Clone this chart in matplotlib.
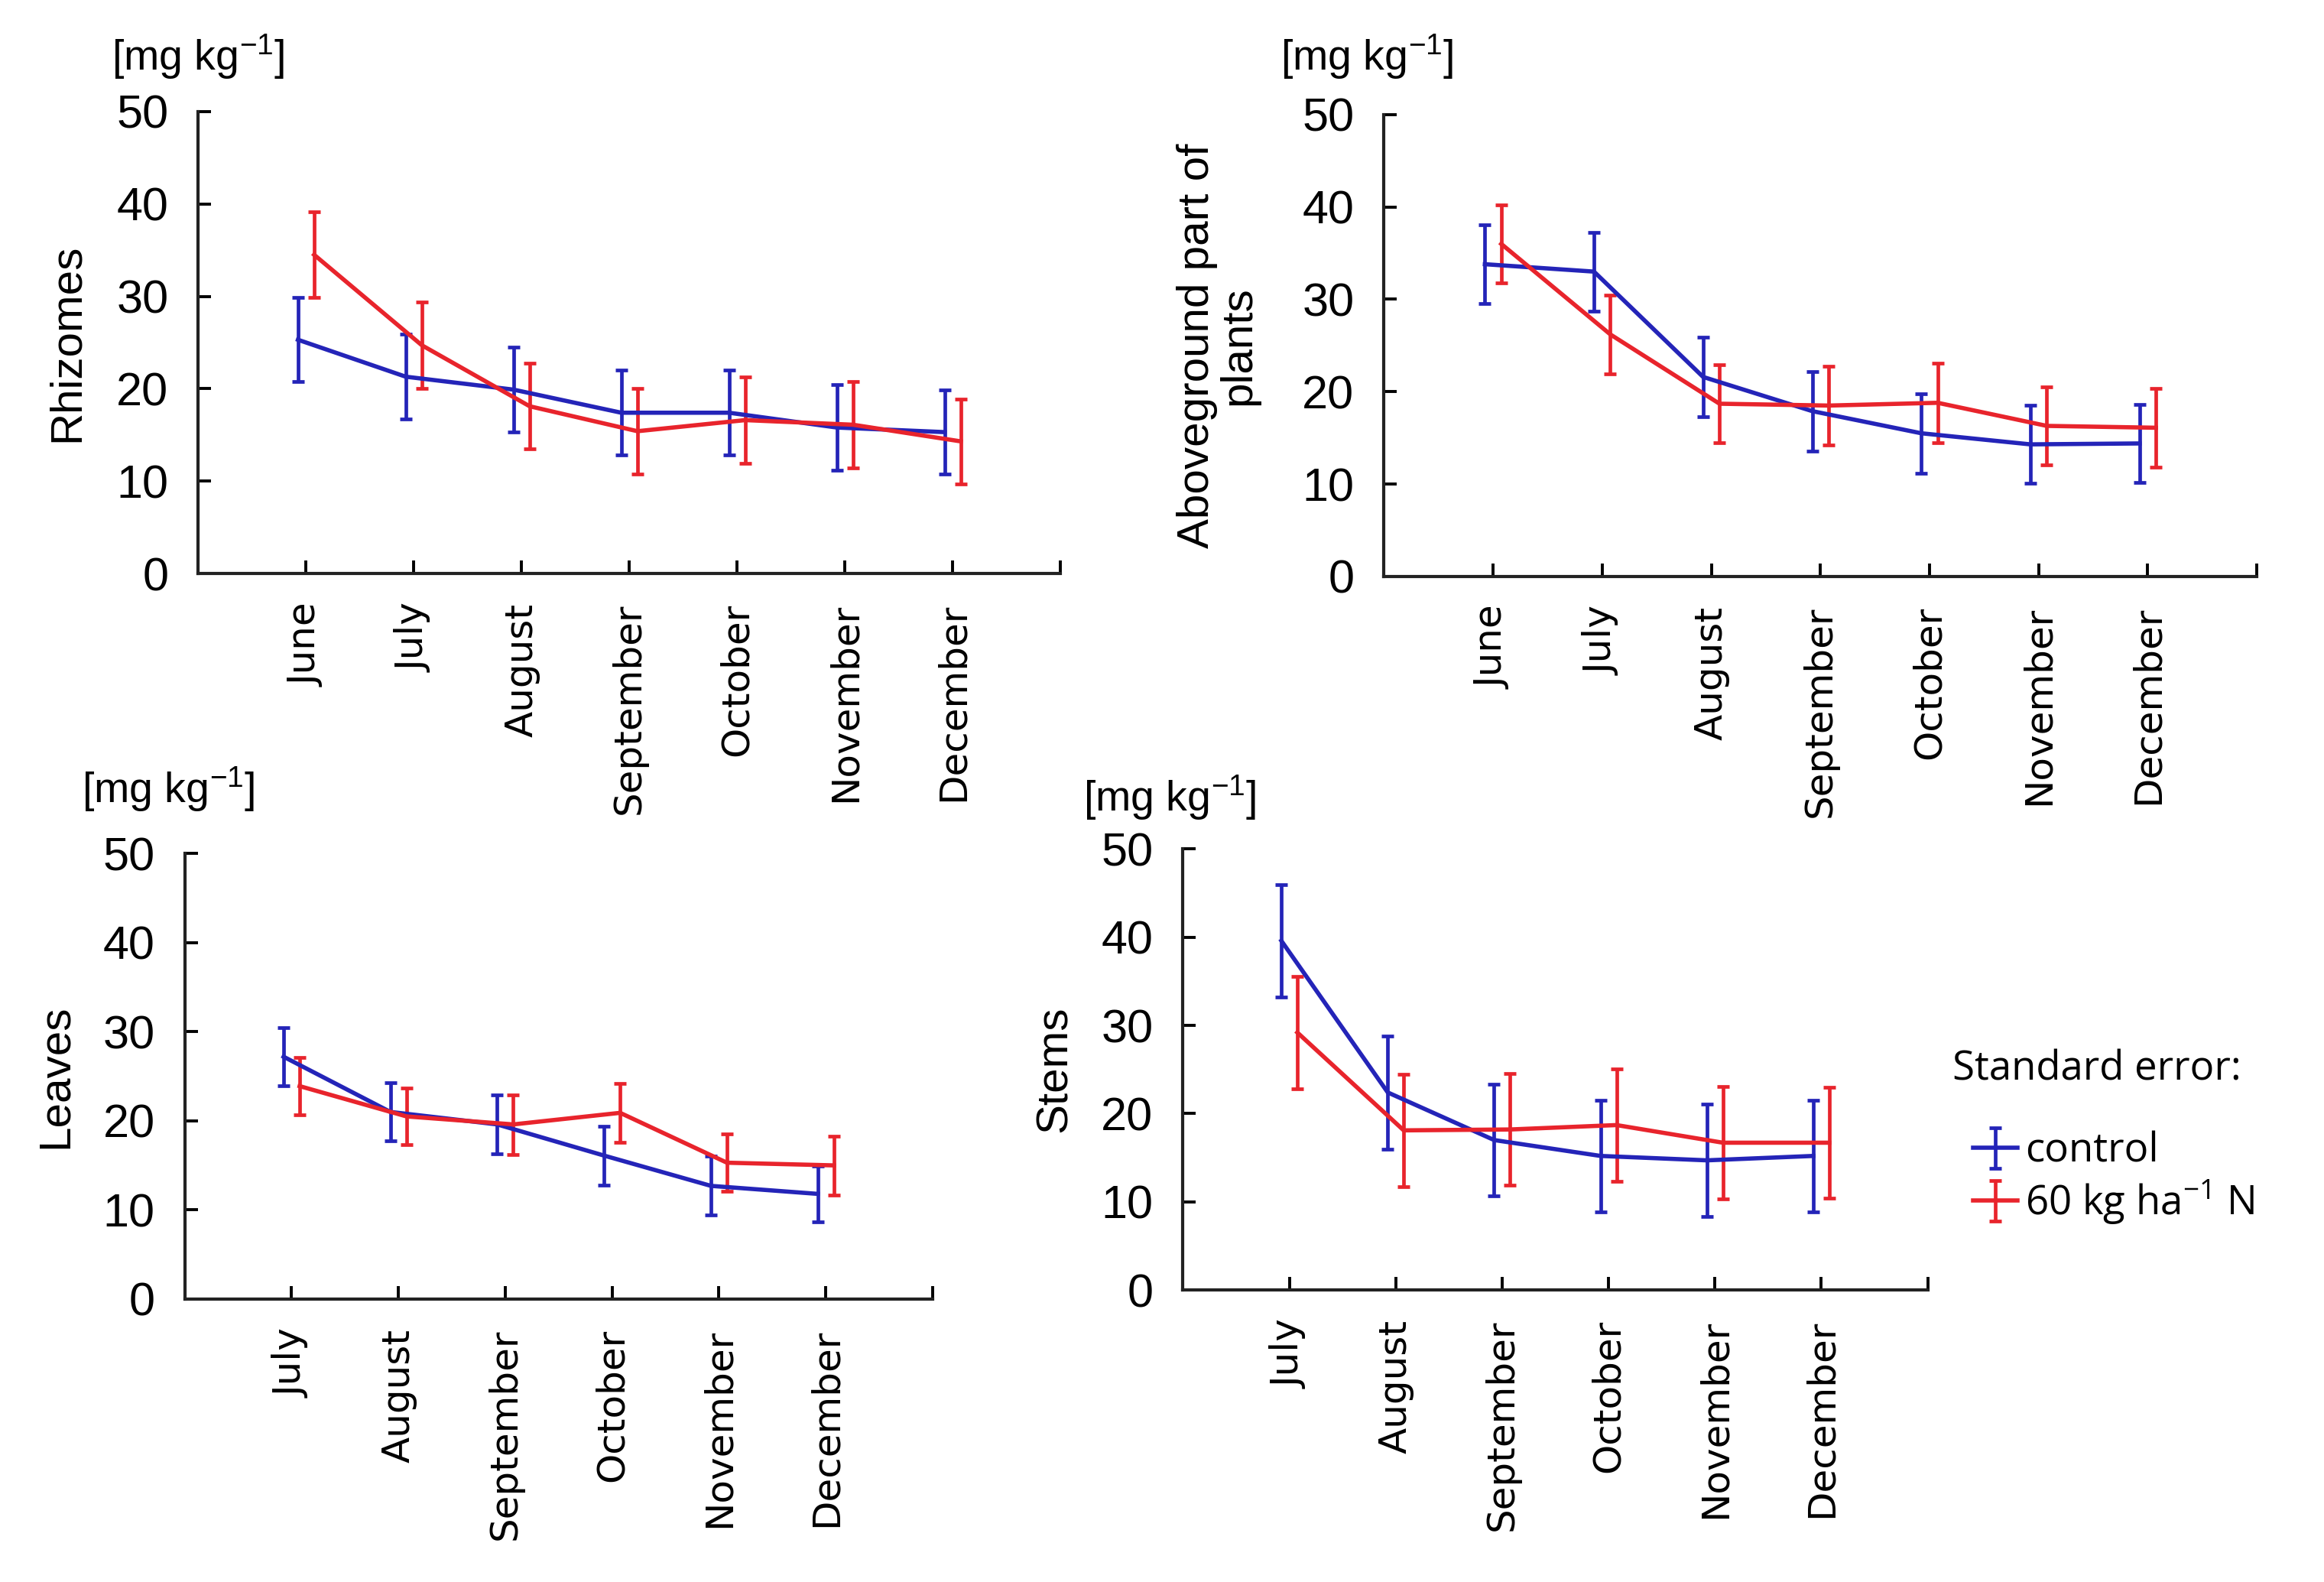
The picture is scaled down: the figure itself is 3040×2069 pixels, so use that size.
import matplotlib
matplotlib.use("Agg")
import matplotlib.pyplot as plt
import numpy as np

# months on the x axis
months_a = ["June", "July", "August", "September", "October", "November", "December"]
months_b = ["July", "August", "September", "October", "November", "December"]

# Rhizomes
rhiz_ctrl = [25.3, 21.3, 19.9, 17.4, 17.4, 15.8, 15.3]
rhiz_ctrl_se = [4.55, 4.6, 4.6, 4.6, 4.6, 4.65, 4.55]
rhiz_n = [34.5, 24.7, 18.1, 15.4, 16.6, 16.1, 14.3]
rhiz_n_se = [4.65, 4.65, 4.65, 4.65, 4.65, 4.65, 4.6]

# Aboveground part of plants
abv_ctrl = [33.8, 33.0, 21.6, 17.9, 15.5, 14.3, 14.4]
abv_ctrl_se = [4.25, 4.25, 4.3, 4.3, 4.3, 4.2, 4.25]
abv_n = [36.0, 26.2, 18.7, 18.5, 18.8, 16.3, 16.1]
abv_n_se = [4.25, 4.25, 4.25, 4.25, 4.3, 4.2, 4.25]

# Leaves
lea_ctrl = [27.2, 21.0, 19.6, 16.1, 12.7, 11.8]
lea_ctrl_se = [3.3, 3.25, 3.3, 3.3, 3.3, 3.15]
lea_n = [23.9, 20.5, 19.6, 20.9, 15.3, 15.0]
lea_n_se = [3.2, 3.2, 3.35, 3.3, 3.25, 3.3]

# Stems
stm_ctrl = [39.6, 22.4, 17.0, 15.2, 14.7, 15.2]
stm_ctrl_se = [6.35, 6.4, 6.35, 6.35, 6.4, 6.35]
stm_n = [29.2, 18.1, 18.2, 18.7, 16.7, 16.7]
stm_n_se = [6.4, 6.35, 6.35, 6.4, 6.35, 6.3]

blue = "#2424b8"
red = "#e8242c"
num_font = ["Liberation Sans Narrow", "Liberation Sans"]
unit = r"[mg kg$^{\mathregular{-1}}$]"

plt.rcParams["mathtext.default"] = "regular"


def draw(ax, months, ctrl, ctrl_se, n, n_se, ylabel, lab_x):
    x = np.arange(1, len(months) + 1)
    ax.errorbar(x - 0.075, ctrl, yerr=ctrl_se, color=blue, lw=2.0, elinewidth=1.7,
                capsize=3, capthick=1.7, label="control")
    ax.errorbar(x + 0.075, n, yerr=n_se, color=red, lw=2.0, elinewidth=1.7,
                capsize=3, capthick=1.7, label="60 kg ha$^{\\mathregular{-1}}$ N")
    ax.set_xlim(0, len(months) + 1)
    ax.set_ylim(0, 50)
    ax.spines["top"].set_visible(False)
    ax.spines["right"].set_visible(False)
    for s in ["left", "bottom"]:
        ax.spines[s].set_linewidth(1.5)
        ax.spines[s].set_color("#222222")
    ax.set_xticks(np.arange(1, len(months) + 2))
    ax.set_xticklabels(months + [""], rotation=90, fontfamily="DejaVu Sans", fontsize=18)
    ax.set_yticks(range(0, 51, 10))
    ax.set_yticklabels([str(v) for v in range(0, 51, 10)], fontfamily=num_font, fontsize=22)
    ax.tick_params(direction="in", length=6, width=1.4, pad=14)
    ax.set_ylabel(ylabel, fontfamily="Liberation Sans", fontsize=21, linespacing=1.0)
    ax.yaxis.label.set_va("center")
    ax.yaxis.set_label_coords(lab_x, 0.5)


fig = plt.figure(figsize=(15.2, 10.345), dpi=200)

ax1 = fig.add_axes([0.0853, 0.6375, 0.371, 0.292])
draw(ax1, months_a, rhiz_ctrl, rhiz_ctrl_se, rhiz_n, rhiz_n_se, "Rhizomes", -0.152)

ax2 = fig.add_axes([0.5955, 0.6356, 0.3756, 0.292])
draw(ax2, months_a, abv_ctrl, abv_ctrl_se, abv_n, abv_n_se, "Aboveground part of\nplants", -0.19)

ax3 = fig.add_axes([0.0795, 0.1789, 0.3218, 0.2815])
draw(ax3, months_b, lea_ctrl, lea_ctrl_se, lea_n, lea_n_se, "Leaves", -0.173)

ax4 = fig.add_axes([0.509, 0.1846, 0.3205, 0.2787])
draw(ax4, months_b, stm_ctrl, stm_ctrl_se, stm_n, stm_n_se, "Stems", -0.172)

for (ux, uy) in [(0.048, 0.964), (0.551, 0.964), (0.0353, 0.501), (0.466, 0.496)]:
    fig.text(ux, uy, unit, ha="left", va="center", fontfamily=num_font, fontsize=20)

fig.text(0.840, 0.324, "Standard error:", ha="left", va="center", fontfamily="Open Sans", fontsize=19)
handles, labels = ax4.get_legend_handles_labels()
fig.legend(handles, labels, loc="center left", bbox_to_anchor=(0.842, 0.255), frameon=False,
           prop={"family": "Open Sans", "size": 19}, handlelength=1.1, handletextpad=0.2,
           labelspacing=0.15, borderaxespad=0)

fig.savefig("out.png", dpi=200)
